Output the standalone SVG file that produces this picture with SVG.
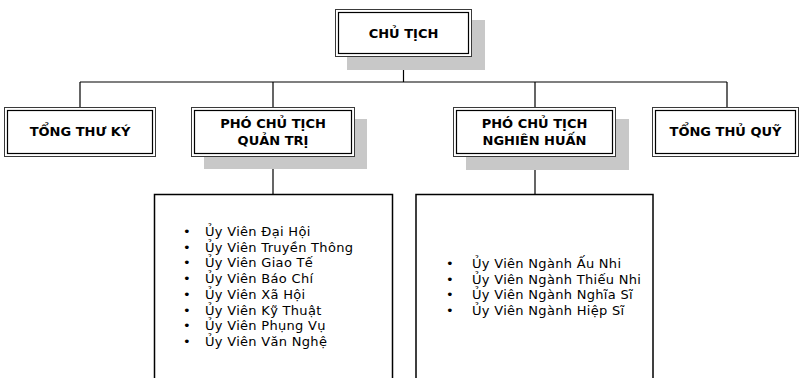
<svg xmlns="http://www.w3.org/2000/svg" width="800" height="378" viewBox="0 0 800 378">
<style>
.bg{fill:#ffffff}
.sh{fill:#c8c8c8}
.outer{fill:#ffffff;stroke:#3a3a3a;stroke-width:1}
.inner{fill:none;stroke:#000000;stroke-width:1.2}
.list{fill:#ffffff;stroke:#000000;stroke-width:1.5}
.t{font-family:"DejaVu Sans",Verdana,sans-serif;font-size:13px;font-weight:bold;fill:#000;text-anchor:middle}
.li{font-family:"DejaVu Sans",Verdana,sans-serif;font-size:13px;letter-spacing:0.3px;fill:#000}
.con{stroke:#000;stroke-width:1.2;fill:none}
</style>
<rect class="bg" x="0" y="0" width="800" height="378"/>
<g id="connectors">
<path class="con" d="M403.5 56.5V82M80 82H727M80 82V107.5M273 82V107.5M535 82V107.5M727 82V107.5M273 157V194.5M535 157V194.5"/>
</g>
<g id="chu-tich">
<rect class="sh" x="347" y="20" width="138" height="50"/>
<rect class="outer" x="335.5" y="9.5" width="136" height="47"/>
<rect class="inner" x="338.5" y="12.5" width="130" height="41"/>
<text class="t" x="403.5" y="38">CHỦ TỊCH</text>
</g>
<g id="tong-thu-ky">
<rect class="outer" x="4.5" y="107.5" width="151" height="49"/>
<rect class="inner" x="7.5" y="110.5" width="145" height="43"/>
<text class="t" x="80" y="136">TỔNG THƯ KÝ</text>
</g>
<g id="pho-chu-tich-quan-tri">
<rect class="sh" x="204" y="119" width="163" height="50"/>
<rect class="outer" x="191.5" y="107.5" width="163" height="49"/>
<rect class="inner" x="194.5" y="110.5" width="157" height="43"/>
<text class="t" x="273" y="127.5">PHÓ CHỦ TỊCH</text>
<text class="t" x="273" y="145">QUẢN TRỊ</text>
</g>
<g id="pho-chu-tich-nghien-huan">
<rect class="sh" x="466" y="119" width="163" height="51"/>
<rect class="outer" x="453.5" y="107.5" width="162" height="49"/>
<rect class="inner" x="456.5" y="110.5" width="156" height="43"/>
<text class="t" x="534.5" y="127.5">PHÓ CHỦ TỊCH</text>
<text class="t" x="534.5" y="145">NGHIÊN HUẤN</text>
</g>
<g id="tong-thu-quy">
<rect class="outer" x="652.5" y="107.5" width="146" height="49"/>
<rect class="inner" x="655.5" y="110.5" width="140" height="43"/>
<text class="t" x="725.5" y="136">TỔNG THỦ QUỸ</text>
</g>
<g id="list-quan-tri">
<rect class="list" x="154.5" y="194.5" width="238" height="200"/>
<text class="li" x="183" y="235.7">•</text>
<text class="li" x="205" y="235.7">Ủy Viên Đại Hội</text>
<text class="li" x="183" y="251.5">•</text>
<text class="li" x="205" y="251.5">Ủy Viên Truyền Thông</text>
<text class="li" x="183" y="267.2">•</text>
<text class="li" x="205" y="267.2">Ủy Viên Giao Tế</text>
<text class="li" x="183" y="283">•</text>
<text class="li" x="205" y="283">Ủy Viên Báo Chí</text>
<text class="li" x="183" y="298.7">•</text>
<text class="li" x="205" y="298.7">Ủy Viên Xã Hội</text>
<text class="li" x="183" y="314.5">•</text>
<text class="li" x="205" y="314.5">Ủy Viên Kỹ Thuật</text>
<text class="li" x="183" y="330.2">•</text>
<text class="li" x="205" y="330.2">Ủy Viên Phụng Vụ</text>
<text class="li" x="183" y="346">•</text>
<text class="li" x="205" y="346">Ủy Viên Văn Nghệ</text>
</g>
<g id="list-nghien-huan">
<rect class="list" x="416" y="194.5" width="237" height="200"/>
<text class="li" x="446" y="267.7">•</text>
<text class="li" x="472" y="267.7">Ủy Viên Ngành Ấu Nhi</text>
<text class="li" x="446" y="283.5">•</text>
<text class="li" x="472" y="283.5">Ủy Viên Ngành Thiếu Nhi</text>
<text class="li" x="446" y="299.3">•</text>
<text class="li" x="472" y="299.3">Ủy Viên Ngành Nghĩa Sĩ</text>
<text class="li" x="446" y="315">•</text>
<text class="li" x="472" y="315">Ủy Viên Ngành Hiệp Sĩ</text>
</g>
</svg>
